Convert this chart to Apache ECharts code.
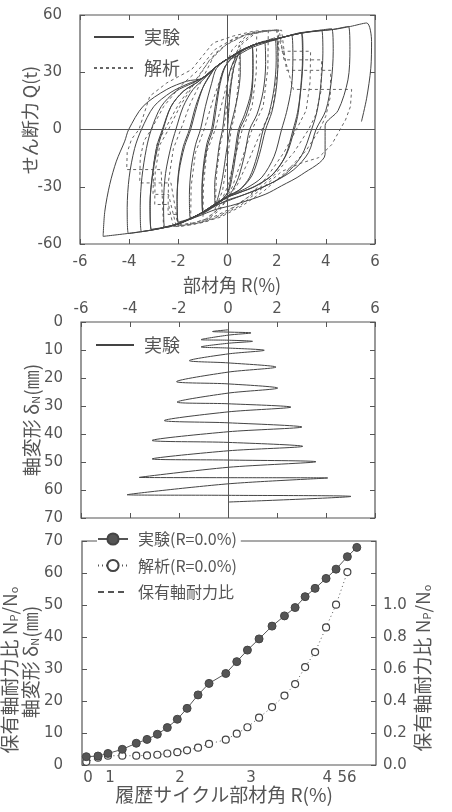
<!DOCTYPE html>
<html><head><meta charset="utf-8">
<script src="https://cdn.jsdelivr.net/npm/echarts@6/dist/echarts.min.js"></script>
<style>html,body{margin:0;padding:0;background:#fff}#c{width:452px;height:812px}</style>
</head><body><div id="c"></div>
<script>
// ---- Top chart: shear force Q(t) vs member angle R(%) ----
const expHysteresis = [
 [0,0],[0.1,18],[0.25,32],[0.5,41],
 [0.52,30],[0.42,18],[0.25,8],[0.1,0],[-0.05,-12],[-0.2,-25],[-0.35,-34],[-0.5,-40],
 [-0.52,-29],[-0.42,-17],[-0.32,-7],[-0.2,0],[-0.08,14],[0.05,28],[0.3,37],[0.6,41],[1.0,44],
 [1.03,32],[0.95,19],[0.7,8],[0.45,0],[0.3,-12],[0.15,-24],[0,-33],[-0.4,-39],[-1.0,-44],
 [-1.03,-32],[-0.95,-19],[-0.8,-8],[-0.6,0],[-0.45,12],[-0.3,24],[-0.05,34],[0.4,40],[1.0,43.5],
 [1.04,32],[0.98,18],[0.75,7],[0.5,0],[0.35,-12],[0.2,-24],[0.02,-33],[-0.45,-39],[-1.0,-43.5],
 [-1.04,-31],[-0.97,-18],[-0.83,-7],[-0.65,0],[-0.5,12],[-0.33,24],[-0.1,33],[0.5,41],[1.0,44],[1.5,46.3],
 [1.55,34],[1.45,20],[1.2,8],[0.9,0],[0.7,-13],[0.45,-25],[0.2,-32],[0,-35],[-0.45,-38.5],[-1.1,-44],[-1.5,-47],
 [-1.55,-34],[-1.47,-20],[-1.3,-8],[-1.1,0],[-0.9,12],[-0.65,24],[-0.45,32],[0,37],[0.5,41],[1.0,44],[1.5,46.2],[1.93,48],
 [1.98,36],[1.9,22],[1.7,9],[1.45,0],[1.2,-14],[0.9,-25],[0.5,-31.5],[0,-35],[-0.45,-38.5],[-1.1,-44],[-1.6,-47.2],[-2.0,-49],
 [-2.05,-36],[-1.97,-22],[-1.75,-9],[-1.5,0],[-1.25,12],[-1.0,22],[-0.7,29],[-0.45,33],[0,37],[0.5,41],[1.0,44],[1.5,46],[2.0,47],
 [2.05,35],[1.98,21],[1.8,9],[1.55,0],[1.3,-13],[1.0,-24],[0.55,-31],[0,-35],[-0.45,-38.5],[-1.1,-44],[-1.6,-47],[-2.0,-48.5],
 [-2.05,-35],[-1.98,-21],[-1.8,-9],[-1.55,0],[-1.3,12],[-1.0,22],[-0.7,28.5],[-0.45,33],[0,37],[0.5,41],[1.0,44],[2.0,47.5],[2.61,49.5],
 [2.66,37],[2.6,22],[2.4,9],[2.2,0],[1.9,-14],[1.4,-25],[0.8,-30.5],[0.3,-33.5],[0,-35.5],[-0.45,-39],[-1.1,-44],[-2.0,-49.5],[-2.56,-51],
 [-2.6,-38],[-2.52,-23],[-2.3,-9],[-2.1,0],[-1.8,12],[-1.4,21],[-1.0,26],[-0.45,33],[0,37],[1.0,44],[2.0,47.5],[2.6,49.5],[3.02,50.7],
 [3.07,38],[3.0,23],[2.85,9],[2.67,0],[2.35,-14],[1.8,-24],[1.1,-30],[0.5,-33],[0,-35.5],[-0.45,-39],[-1.1,-44],[-2.0,-49.5],[-2.6,-51.5],[-3.1,-52.5],
 [-3.15,-39],[-3.05,-24],[-2.85,-10],[-2.62,0],[-2.3,12],[-1.8,20],[-1.2,25],[-0.5,32.5],[0,37],[1.0,44],[2.0,47.5],[3.0,50.5],
 [3.05,37],[2.98,22],[2.88,9],[2.72,0],[2.4,-13],[1.85,-23.5],[1.15,-29.5],[0.5,-33],[0,-35.5],[-0.45,-39],[-1.1,-44],[-2.0,-49.5],[-3.1,-52.3],
 [-3.15,-38],[-3.05,-23],[-2.88,-9],[-2.65,0],[-2.3,12],[-1.8,20],[-1.2,25],[-0.5,32.5],[0,37],[1.0,44],[2.0,47.5],[3.0,50.5],[3.83,52],
 [3.88,40],[3.8,24],[3.65,10],[3.42,0],[3.0,-14],[2.3,-24],[1.4,-30.5],[0.6,-34.5],[0,-37],[-0.5,-40],[-1.1,-44],[-2.0,-49.5],[-2.6,-51.5],[-3.5,-53.5],
 [-3.55,-40],[-3.48,-25],[-3.3,-10],[-3.1,0],[-2.7,12],[-2.1,20],[-1.4,24.5],[-0.9,28],[-0.45,33],[0,37],[1.0,44],[2.0,47.5],[3.0,50.5],[4.24,52.8],
 [4.3,41],[4.22,25],[4.0,10],[3.6,0],[3.3,-12],[2.7,-21],[1.8,-28],[0.9,-33],[0.2,-36.5],[-0.5,-40],[-1.1,-44.5],[-2.0,-49.5],[-3.0,-52.5],[-4.03,-54.5],
 [-4.08,-41],[-4.0,-25],[-3.78,-10],[-3.5,0],[-3.0,12],[-2.3,19.5],[-1.6,24],[-1.0,27],[-0.45,33],[0,37],[1.0,44],[2.0,47.5],[3.0,50.5],[4.3,52.5],[4.92,54],
 [4.98,42],[4.9,26],[4.5,10],[3.97,2],[3.97,-13],[3.02,-23.6],[2.2,-29.5],[1.53,-34],[0.31,-39.3],[-0.5,-42],[-1.2,-45.5],[-2.6,-51.5],[-3.83,-54.1],[-5.06,-56],
 [-4.99,-42.8],[-4.79,-28.8],[-4.52,-16.6],[-4.18,-6.1],[-4.02,0],[-3.43,12.2],[-2.47,21],[-1.66,25.3],[-0.98,27],[-0.44,33.2],[0,36.7],[0.24,37.6],[1.0,43],[2.0,47.2],[2.95,50.7],[4.3,52.4],[5.0,54],[5.66,55.8],
 [5.86,46.1],[5.83,32.1],[5.66,16.4],[5.45,4.2]
];
const anaHysteresis = [
 [0,0],[0.1,22],[0.3,38],[0.5,44],
 [0.45,25],[0.3,8],[0.15,0],[0,-15],[-0.2,-32],[-0.5,-42],
 [-0.45,-24],[-0.3,-8],[-0.15,0],[0,15],[0.3,35],[0.6,45],[1.19,51],
 [1.17,30],[1.0,12],[0.6,0],[0.3,-15],[0,-30],[-0.4,-42],[-1.0,-48.5],
 [-0.98,-30],[-0.85,-12],[-0.5,0],[-0.2,15],[0.1,30],[0.5,45],[1.0,50],[1.66,51.8],
 [1.64,32],[1.45,12],[1.0,0],[0.6,-15],[0.2,-30],[-0.3,-42],[-0.9,-48],[-1.5,-50],
 [-1.48,-30],[-1.3,-12],[-0.95,0],[-0.6,15],[-0.2,30],[0.2,42],[0.8,49.5],[1.5,51.5],[2.07,52.2],
 [2.06,33],[1.85,12],[1.4,0],[0.9,-15],[0.4,-29],[-0.2,-40],[-0.9,-47],[-1.6,-50],[-2.0,-51],[-2.1,-44.5],[-2.42,-44.5],
 [-2.4,-27],[-2.2,-10],[-1.9,0],[-1.5,14],[-1.0,27],[-0.5,40],[0.2,47],[1.0,51],[2.0,52],[2.1,41],[2.9,41],[3.38,41],
 [3.36,25],[3.2,10],[2.8,0],[2.3,-12],[1.6,-25],[0.8,-36],[0,-43],[-0.8,-48],[-1.5,-50],[-2.2,-51],[-2.4,-39.3],[-2.96,-39.3],
 [-2.94,-22],[-2.75,-8],[-2.4,0],[-1.9,13],[-1.3,25],[-0.7,37],[0,45],[0.8,50],[1.6,51.8],[2.1,52],[2.3,36.5],[3.83,36.5],
 [3.8,20],[3.6,8],[3.3,0],[2.7,-12],[1.9,-24],[1.0,-34],[0.2,-41],[-0.6,-46],[-1.4,-49],[-2.1,-50],[-2.4,-34],[-3.03,-34],
 [-3.0,-18],[-2.85,-7],[-2.55,0],[-2.0,13],[-1.4,24],[-0.8,35],[-0.1,44],[0.7,49.5],[1.5,51.5],[2.2,52],[2.4,31],[4.2,31],
 [4.18,17],[4.0,7],[3.75,0],[3.2,-11],[2.4,-22],[1.5,-32],[0.6,-40],[-0.3,-46],[-1.1,-49],[-2.0,-50.5],[-2.3,-28],[-3.57,-28],
 [-3.55,-15],[-3.4,-6],[-3.1,0],[-2.6,12],[-1.9,23],[-1.2,31],[-0.5,42],[0.3,48],[1.2,51.2],[2.0,52.2],[2.68,21],[5.05,21],
 [5.0,12],[4.8,5],[4.58,0],[4.24,-7.9],[3.7,-14.8],[3.02,-17.5],[2.2,-22],[1.3,-32],[0.5,-40],[-0.4,-46],[-1.2,-49],[-2.0,-50.5],[-2.6,-51.5],[-2.7,-21],[-4.1,-21],
 [-4.08,-12],[-3.9,-5],[-3.6,0],[-3.16,17.5],[-2.47,24.4],[-1.46,31.4],[-0.58,45.4],[0.24,49],[1.05,51.5],[2.0,52.2]
];
// ---- Middle chart: axial deformation vs R ----
const axialPath = [[0,2.8],[-0.63,3.4],[0,3.6],[0.94,3.9],[0,4.7],[-1.1,6.3],[0,6.5],[1.0,6.9],[0,7.6],[-1.1,8.9],[0,9.3],[1.48,10.1],[0,11.4],[-1.58,13.8],[0,14.6],[1.96,16.1],[0,17.9],[-2.1,21.3],[0,22.1],[2.03,23.6],[0,25.4],[-2.08,28.6],[0,29.2],[2.57,30.4],[0,32.1],[-2.6,35.2],[0,36.0],[3.02,37.5],[0,39.2],[-3.1,42.3],[0,43.0],[3.05,44.4],[0,46.0],[-3.1,48.9],[0,49.3],[3.59,49.9],[0,51.9],[-3.62,55.5],[0,55.6],[4.07,55.7],[0,57.8],[-4.12,61.7],[0,61.9],[5.02,62.3],[0,64.3]];
// ---- Bottom chart: axial deformation at R=0 per cycle ----
const cycleX = [0.39,1.44,2.34,3.63,4.89,5.86,6.79,7.69,8.59,9.47,10.46,11.45,12.96,13.95,14.91,15.96,17.13,18.25,19.21,20.11,21.01,22.0,22.9,23.92,24.77];
const expAxial = [2.6,2.8,3.6,4.9,6.8,8.0,9.6,11.7,14.3,17.7,21.9,25.5,28.6,32.3,35.9,39.4,43.4,46.6,49.2,52.6,55.2,58.3,61.2,65.1,68.0];
const anaAxial = [1.0,2.3,2.9,2.9,2.9,3.0,3.2,3.6,4.0,4.6,5.4,6.6,7.9,9.8,11.8,14.8,18.1,21.7,25.3,30.6,35.3,43.0,50.1,60.3];
const ratioValues = [];
const cycleTickPos = [0.54,2.52,8.83,15.23,22.1,23.89];
const cycleTickLabels = ['0','1','2','3','4','56'];

const C = '#555';
const NUM = 'DejaVu Sans';
const JP = 'Noto Sans CJK JP';
const tick = {show:true, inside:true, length:5, lineStyle:{color:C}};
const lab = {color:C, fontSize:15, fontFamily:NUM};
const noLine = {show:false, onZero:false};
function mirror(extra){return Object.assign({type:'value', axisLine:noLine, axisTick:tick, axisLabel:{show:false}, splitLine:{show:false}}, extra);}
function main(extra){return Object.assign({type:'value', axisLine:noLine, axisTick:tick, splitLine:{show:false}}, extra);}

const chart = echarts.init(document.getElementById('c'), null, {renderer:'canvas'});
const gridBox = {show:true, borderColor:C, borderWidth:1.2, backgroundColor:'transparent'};
function vtext(x,y,rich,text,size){
  return {type:'text', x:x, y:y, rotation:Math.PI/2, style:{text:text, rich:rich, x:0, y:0, textAlign:'center', textVerticalAlign:'middle', align:'center', verticalAlign:'middle', font:(size||18)+'px "Noto Sans CJK JP"', fill:C}};
}
const richN = {a:{fontSize:19, fontFamily:JP, fill:C}, s:{fontSize:11, fontFamily:JP, fill:C, verticalAlign:'bottom'}};
const legendText = {color:C, fontFamily:JP, padding:[0,0,0,5]};

chart.setOption({
  animation:false,
  backgroundColor:'#fff',
  color:['#444'],
  grid:[
    Object.assign({left:80, right:77, top:15, bottom:568}, gridBox),
    Object.assign({left:81, right:77, top:322, bottom:294}, gridBox),
    Object.assign({left:82, right:76, top:541, bottom:47}, gridBox)
  ],
  xAxis:[
    main({gridIndex:0, position:'bottom', min:-6, max:6, interval:2, axisLabel:Object.assign({margin:11}, lab)}),
    mirror({gridIndex:0, position:'top', min:-6, max:6, interval:2}),
    main({gridIndex:1, position:'top', min:-6, max:6, interval:2, axisLabel:Object.assign({margin:5}, lab)}),
    mirror({gridIndex:1, position:'bottom', min:-6, max:6, interval:2}),
    main({gridIndex:2, position:'bottom', min:0, max:26.5, axisTick:{show:false},
      axisLabel:Object.assign({margin:6, hideOverlap:false, customValues:cycleTickPos, formatter:function(v){let b=0;for(let i=0;i<cycleTickPos.length;i++){if(Math.abs(cycleTickPos[i]-v)<Math.abs(cycleTickPos[b]-v))b=i;}return cycleTickLabels[b];}}, lab)})
  ],
  yAxis:[
    main({gridIndex:0, position:'left', min:-60, max:60, interval:30, axisLabel:Object.assign({margin:18}, lab)}),
    mirror({gridIndex:0, position:'right', min:-60, max:60, interval:30}),
    main({gridIndex:1, position:'left', inverse:true, min:0, max:70, interval:10, axisLabel:Object.assign({margin:18}, lab)}),
    mirror({gridIndex:1, position:'right', inverse:true, min:0, max:70, interval:10}),
    main({gridIndex:2, position:'left', min:0, max:70, interval:10, axisLabel:Object.assign({margin:19}, lab)}),
    main({gridIndex:2, position:'right', min:0, max:1.4, interval:0.2, axisLabel:Object.assign({margin:7, formatter:function(v){return v>1.001?'':v.toFixed(1);}}, lab)})
  ],
  legend:[
    {data:['実験','解析'], orient:'vertical', left:93, top:28, padding:0, itemWidth:40, itemHeight:14, itemGap:13, itemStyle:{opacity:0}, textStyle:Object.assign({fontSize:18}, legendText)},
    {data:['実験 '], orient:'vertical', left:95, top:336, padding:0, itemWidth:38, itemHeight:14, itemStyle:{opacity:0}, textStyle:Object.assign({fontSize:18}, legendText)},
    {data:['実験(R=0.0%)','解析(R=0.0%)',{name:'保有軸耐力比', itemStyle:{opacity:0}}], orient:'vertical', left:97, top:531, padding:[0,4,0,0], backgroundColor:'#fff', itemWidth:30, itemHeight:14, itemGap:10.5, textStyle:Object.assign({fontSize:16}, legendText)}
  ],
  series:[
    {name:'解析', type:'line', color:'#666', xAxisIndex:0, yAxisIndex:0, data:anaHysteresis, showSymbol:false, symbol:'none', lineStyle:{color:'#666', width:1, type:[3,3]}},
    {name:'実験', type:'line', color:'#444', xAxisIndex:0, yAxisIndex:0, data:expHysteresis, showSymbol:false, symbol:'none', smooth:0.3, lineStyle:{color:'#444', width:1},
      markLine:{silent:true, symbol:['none','none'], label:{show:false}, lineStyle:{color:C, type:'solid', width:1}, data:[{xAxis:0},{yAxis:0}]}},
    {name:'実験 ', type:'line', color:'#444', xAxisIndex:2, yAxisIndex:2, data:axialPath, showSymbol:false, symbol:'none', smooth:0.3, lineStyle:{color:'#444', width:1},
      markLine:{silent:true, symbol:['none','none'], label:{show:false}, lineStyle:{color:C, type:'solid', width:1}, data:[{xAxis:0}]}},
    {name:'保有軸耐力比', type:'line', color:C, xAxisIndex:4, yAxisIndex:5, data:ratioValues, symbol:'none', lineStyle:{color:C, width:1, type:[6,4]}},
    {name:'解析(R=0.0%)', type:'line', color:'#444', xAxisIndex:4, yAxisIndex:4, data:anaAxial.map((v,i)=>[cycleX[i],v]), symbol:'circle', symbolSize:7, itemStyle:{color:'#fff', borderColor:'#444', borderWidth:1.2}, lineStyle:{color:'#555', width:1, type:[1,3]}},
    {name:'実験(R=0.0%)', type:'line', color:'#555', xAxisIndex:4, yAxisIndex:4, data:expAxial.map((v,i)=>[cycleX[i],v]), symbol:'circle', symbolSize:8, itemStyle:{color:'#555', borderColor:'#444', borderWidth:1}, lineStyle:{color:'#555', width:1}}
  ],
  graphic:[
    {type:'text', x:232, y:285, style:{text:'部材角 R(%)', textAlign:'center', textVerticalAlign:'middle', align:'center', verticalAlign:'middle', font:'18px "Noto Sans CJK JP"', fill:C}},
    vtext(30,120,null,'せん断力 Q(t)',18),
    vtext(32,420,richN,'{a|軸変形 δ}{s|N}{a|(㎜)}'),
    vtext(10,670,richN,'{a|保有軸耐力比 N}{s|P}{a|/N}{s|o}'),
    vtext(31,662,richN,'{a|軸変形 δ}{s|N}{a|(㎜)}'),
    vtext(423,668,richN,'{a|保有軸耐力比 N}{s|P}{a|/N}{s|o}'),
    {type:'text', x:224, y:795, style:{text:'履歴サイクル部材角 R(%)', textAlign:'center', textVerticalAlign:'middle', align:'center', verticalAlign:'middle', font:'19px "Noto Sans CJK JP"', fill:C}}
  ]
});
</script></body></html>
